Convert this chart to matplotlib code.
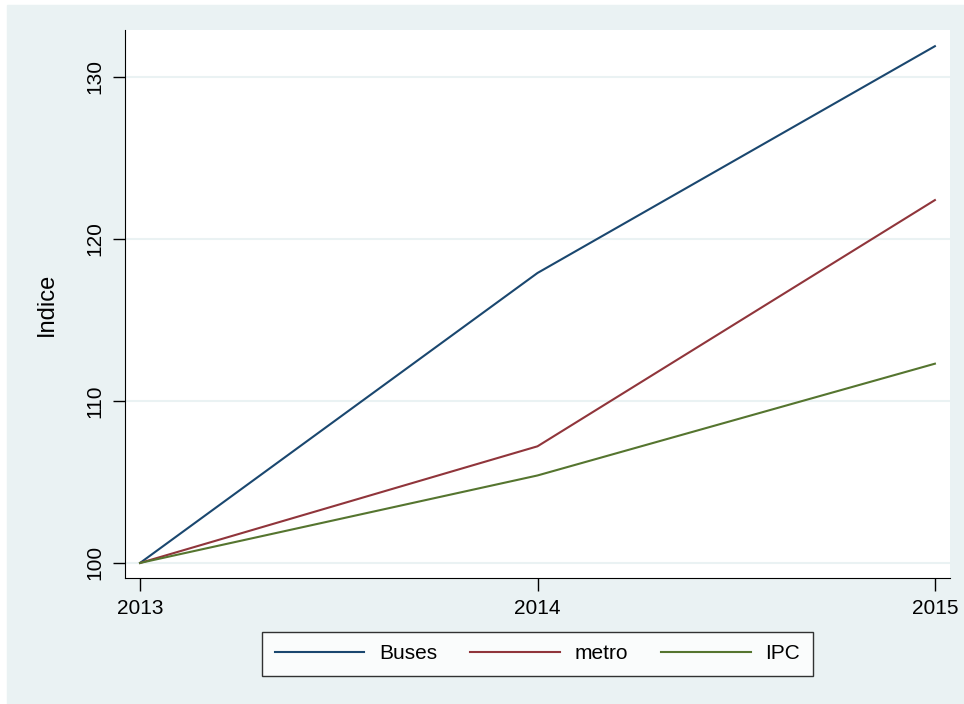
import numpy as np
import matplotlib.pyplot as plt
from matplotlib.patches import Rectangle

plt.rcParams['font.family'] = ['Liberation Sans', 'DejaVu Sans']

anios = [2013, 2014, 2015]
buses = [100, 117.9, 131.9]
metro = [100, 107.2, 122.4]
ipc = [100, 105.4, 112.3]
series = ['Buses', 'metro', 'IPC']
colores = ['#1A476F', '#90353B', '#55752F']

fondo = '#EAF2F3'
W, H = 964, 704
fig = plt.figure(figsize=(W / 100, H / 100), dpi=100)
fig.patch.set_facecolor('white')
# marco de fondo estilo Stata
fig.patches.append(Rectangle((7 / W, 0), (W - 7) / W, (H - 5) / H,
                             transform=fig.transFigure, color=fondo, zorder=-1))

ax = fig.add_axes([125 / W, (H - 578) / H, (950 - 125) / W, (578 - 30) / H])
ax.set_facecolor('white')

for datos, nombre, c in zip([buses, metro, ipc], series, colores):
    ax.plot(anios, datos, color=c, lw=1.5, label=nombre)

ax.set_xlim(2012.962, 2015.038)
ax.set_ylim(99.07, 132.9)
ax.set_xticks(anios)
ax.set_xticklabels([str(a) for a in anios], fontsize=15)
ax.set_yticks([100, 110, 120, 130])
ax.set_yticklabels(['100', '110', '120', '130'], fontsize=15, rotation=90, va='center')
ax.yaxis.grid(True, color=fondo, lw=1.5)
ax.set_axisbelow(True)
ax.spines['top'].set_visible(False)
ax.spines['right'].set_visible(False)
ax.spines['left'].set_color('black')
ax.spines['bottom'].set_color('black')
ax.tick_params(direction='out', length=9, width=1, pad=6)
ax.set_ylabel('Indice', fontsize=17, labelpad=20)

leg = ax.legend(loc='center', bbox_to_anchor=(0.5, -0.138), ncol=3, fontsize=15,
                frameon=True, fancybox=False, edgecolor='black', facecolor='white',
                handlelength=4.3, columnspacing=1.6, handletextpad=0.7,
                borderpad=0.6, borderaxespad=0)
leg.get_frame().set_linewidth(1)

plt.savefig('out.png', dpi=100, facecolor=fig.get_facecolor())
